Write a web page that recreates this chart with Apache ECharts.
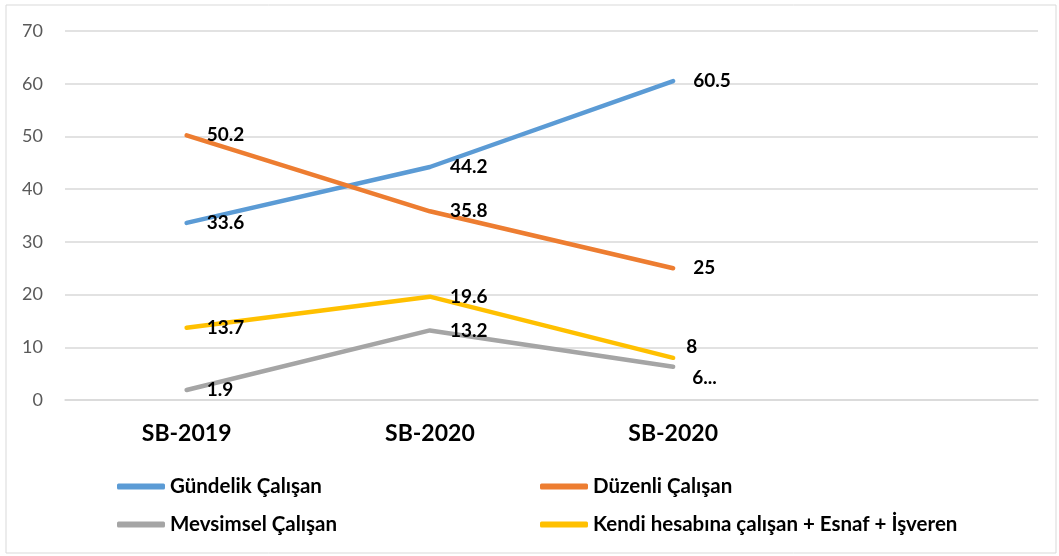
<!DOCTYPE html>
<html>
<head>
<meta charset="utf-8">
<script src="https://cdn.jsdelivr.net/npm/echarts@6/dist/echarts.min.js"></script>
<style>
  html, body { margin: 0; padding: 0; background: #fff; }
  #chart { width: 1059px; height: 556px; }
</style>
</head>
<body>
<div id="chart"></div>
<script>
// categories (4th slot is empty, like the source chart)
var categories = ['SB-2019', 'SB-2020', 'SB-2020', ''];
var yTicks = [0, 10, 20, 30, 40, 50, 60, 70];

var gundelik = [33.6, 44.2, 60.5];
var duzenli = [50.2, 35.8, 25];
var mevsimsel = [1.9, 13.2, 6.3];
var kendi = [13.7, 19.6, 8];

var names = ['Gündelik Çalışan', 'Düzenli Çalışan', 'Mevsimsel Çalışan', 'Kendi hesabına çalışan + Esnaf + İşveren'];
var colors = ['#5B9BD5', '#ED7D31', '#A5A5A5', '#FFC000'];

var chart = echarts.init(document.getElementById('chart'));

var font = 'Lato, "Open Sans", sans-serif';

function makeSeries(name, values, color, lastLabel) {
    return {
        name: name,
        type: 'line',
        data: values.map(function (v, i) {
            if (i === values.length - 1 && lastLabel) {
                return { value: v, label: lastLabel };
            }
            return v;
        }),
        symbol: 'circle',
        symbolSize: 0,
        showSymbol: true,
        lineStyle: { color: color, width: 4.5, cap: 'round' },
        itemStyle: { color: color },
        z: 2,
        label: {
            show: true,
            position: 'right',
            distance: 20,
            color: '#000',
            fontSize: 19,
            fontWeight: 'bold',
            fontFamily: font
        }
    }
}

var legendText = { color: '#000', fontSize: 20.5, fontWeight: 'bold', fontFamily: font };

var option = {
    animation: false,
    backgroundColor: '#fff',
    graphic: [{
        type: 'rect',
        shape: { x: 6, y: 5, width: 1050, height: 548 },
        style: { fill: 'none', stroke: '#d9d9d9', lineWidth: 1 },
        silent: true
    }],
    grid: { left: 65, right: 21, top: 31, bottom: 156 },
    legend: [{
        left: 112,
        top: 471,
        orient: 'vertical',
        itemGap: 17,
        itemWidth: 48,
        itemHeight: 6,
        icon: 'roundRect',
        data: [names[0], names[2]],
        textStyle: legendText
    }, {
        left: 535,
        top: 471,
        orient: 'vertical',
        itemGap: 17,
        itemWidth: 48,
        itemHeight: 6,
        icon: 'roundRect',
        data: [names[1], names[3]],
        textStyle: legendText
    }],
    xAxis: {
        type: 'category',
        data: categories,
        boundaryGap: true,
        axisLine: { lineStyle: { color: '#d9d9d9', width: 1.5 } },
        axisTick: { show: false },
        axisLabel: { color: '#000', fontSize: 23, fontWeight: 'bold', fontFamily: font, margin: 22 }
    },
    yAxis: {
        type: 'value',
        min: yTicks[0],
        max: yTicks[yTicks.length - 1],
        interval: 10,
        axisLine: { show: false },
        axisTick: { show: false },
        splitLine: { lineStyle: { color: '#d9d9d9', width: 1.5 } },
        axisLabel: { color: '#595959', fontSize: 18, fontFamily: font, margin: 22 }
    },
    series: [
        makeSeries(names[0], gundelik, colors[0]),
        makeSeries(names[1], duzenli, colors[1]),
        makeSeries(names[2], mevsimsel, colors[2], {
            // the source label is cut off after the first digit
            formatter: function (p) { return String(p.value).charAt(0) + '...'; },
            offset: [-1, 11]
        }),
        makeSeries(names[3], kendi, colors[3], { offset: [-7, -11] })
    ]
};

chart.setOption(option);
</script>
</body>
</html>
